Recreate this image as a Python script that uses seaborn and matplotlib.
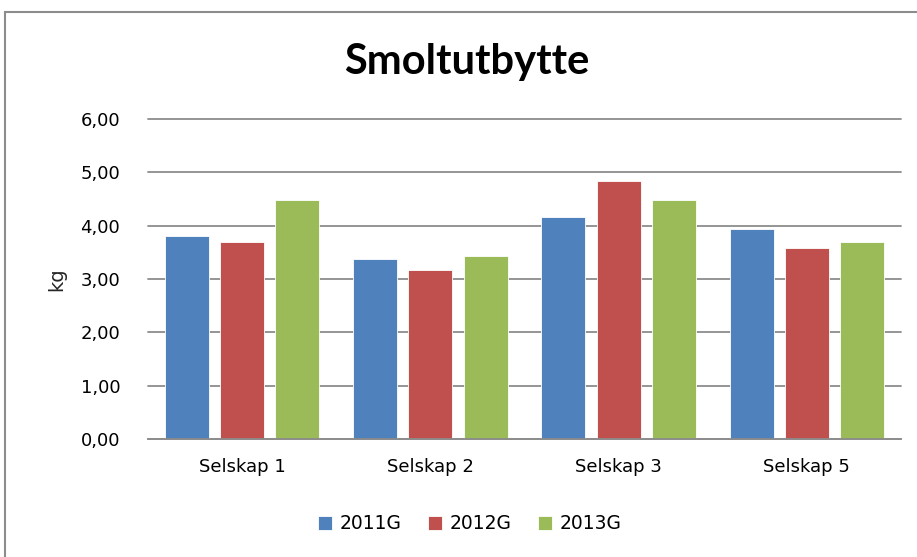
import matplotlib
matplotlib.use("Agg")
import matplotlib.pyplot as plt
import matplotlib.ticker as mticker
from matplotlib.patches import Rectangle
import seaborn as sns
import pandas as pd

sns.set_style("white")
plt.rcParams["font.family"] = ["DejaVu Sans"]
plt.rcParams["text.color"] = "black"

# data
companies = ["Selskap 1", "Selskap 2", "Selskap 3", "Selskap 5"]
years = ["2011G", "2012G", "2013G"]
val_2011 = [3.80, 3.38, 4.16, 3.94]
val_2012 = [3.70, 3.16, 4.84, 3.58]
val_2013 = [4.48, 3.44, 4.48, 3.70]
colors = ["#4F81BD", "#C0504D", "#9BBB59"]

df = pd.DataFrame({
    "selskap": companies * 3,
    "aar": [y for y in years for _ in companies],
    "kg": val_2011 + val_2012 + val_2013,
})

fig = plt.figure(figsize=(9.17, 5.57), dpi=100)
ax = fig.add_axes([148 / 917, 1 - 439 / 557, (901 - 148) / 917, (439 - 119) / 557])

sns.barplot(data=df, x="selskap", y="kg", hue="aar", palette=colors,
            saturation=1, width=0.88, gap=0.2, errorbar=None, ax=ax,
            legend=True, edgecolor="white", linewidth=0.6)

ax.set_ylim(0, 6)
ax.set_xlim(-0.5, 3.5)
ax.yaxis.set_major_locator(mticker.MultipleLocator(1))
ax.yaxis.set_major_formatter(mticker.FuncFormatter(lambda v, p: f"{v:.2f}".replace(".", ",")))
ax.grid(axis="y", color="#8c8c8c", linewidth=1.3)
for gl in ax.get_ygridlines():
    gl.set_clip_on(False)
ax.set_axisbelow(True)
for s in ["top", "right", "left"]:
    ax.spines[s].set_visible(False)
ax.spines["bottom"].set_color("#8c8c8c")
ax.spines["bottom"].set_linewidth(1.3)
ax.tick_params(axis="both", length=0, labelsize=13, colors="#000000")
ax.tick_params(axis="y", pad=20)
ax.tick_params(axis="x", pad=14)
ax.set_xlabel("")
ax.set_ylabel("kg", fontsize=14, labelpad=10)

ax.legend(loc="center", bbox_to_anchor=((470 - 148) / 753, -0.265),
          ncol=3, frameon=False, fontsize=13.5, handlelength=0.75, handleheight=0.75,
          columnspacing=1.4, handletextpad=0.4)

fig.text(467 / 917, 1 - 62 / 557, "Smoltutbytte", ha="center", va="center",
         fontsize=30, fontweight="bold", family=["Lato", "DejaVu Sans"])

fig.patches.append(Rectangle((5 / 917, -0.1), 1.2, 1 - 12 / 557 + 0.1,
                             transform=fig.transFigure, fill=False,
                             edgecolor="#8c8c8c", linewidth=1.5))

fig.savefig("out.png", dpi=100)
